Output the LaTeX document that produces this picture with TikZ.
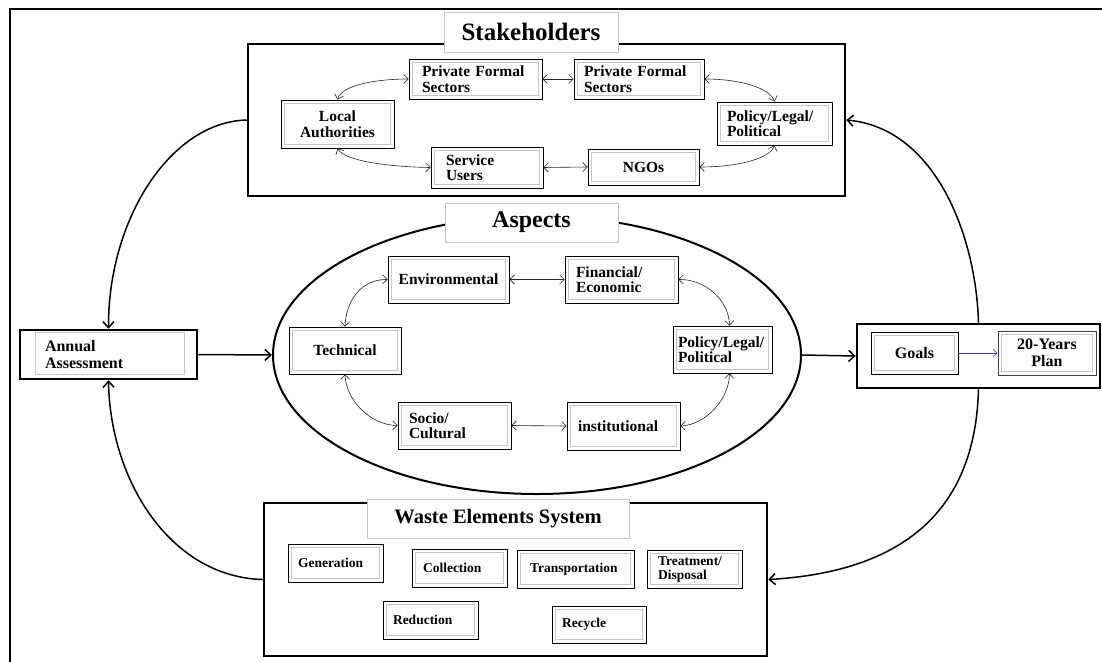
\documentclass[tikz,border=0pt]{standalone}
\usepackage{fontspec}
\setmainfont{Liberation Serif}
\usetikzlibrary{arrows.meta,shapes.geometric}
\begin{document}
\begin{tikzpicture}[x=1pt,y=-1pt,
  sb/.style={draw=black, line width=0.8pt, fill=white, inner ysep=0pt, align=left, font=\bfseries\fontsize{15.5}{15.5}\selectfont},
  wb/.style={sb, font=\bfseries\fontsize{13.5}{14}\selectfont},
  ab/.style={sb, font=\bfseries\fontsize{16}{17}\selectfont},
  ttl/.style={draw=gray!45, line width=0.8pt, fill=white, inner sep=0pt, font=\bfseries\fontsize{24}{24}\selectfont},
  cont/.style={draw=black, line width=2.5pt, inner sep=0pt},
  ingray/.style={draw=gray!45, line width=0.7pt},
  dbl/.style={{Straight Barb[length=4.5pt,width=9pt]}-{Straight Barb[length=4.5pt,width=9pt]}, line width=0.6pt, black!85},
  big/.style={-{Straight Barb[length=6pt,width=11pt]}, line width=1.5pt},
]
\useasboundingbox (0,0) rectangle (1102,661);
\fill[white] (0,0) rectangle (1102,661);
% outer frame (only top and left edges visible)
\draw[line width=2.5pt] (10,700) -- (10,9) -- (1130,9);

% aspects ellipse
\node[draw, ellipse, line width=2pt, minimum width=528, minimum height=278, inner sep=0pt] (asp) at (537,355) {};

% containers
\node[cont, minimum width=597, minimum height=152] (stk) at (546.5,120) {};
\node[cont, minimum width=503, minimum height=153] (wbox) at (515.5,579.5) {};
\node[cont, minimum width=243, minimum height=64] (gc) at (978.5,356) {};

% titles
\node[ttl, minimum width=174, minimum height=40, font=\bfseries\fontsize{25}{25}\selectfont] (stkt) at (531,32) {Stakeholders};
\node[ttl, minimum width=173, minimum height=39] (aspt) at (531.5,222.5) {Aspects};
\node[ttl, minimum width=262, minimum height=39, font=\bfseries\fontsize{20.5}{21}\selectfont] (wt) at (498,518.5) {Waste Elements System};

% stakeholders
\node[sb, minimum height=48, text width=97, inner xsep=8, align=center] (lauth) at (337.5,124) {Local\\Authorities};
\node[sb, minimum height=40, text width=107, inner xsep=13] (pfs1) at (475.5,79) {Private Formal\\Sectors};
\node[sb, minimum height=40, text width=110, inner xsep=10] (pfs2) at (639,79) {Private Formal\\Sectors};
\node[sb, minimum height=43, text width=95, inner xsep=10] (spol) at (774.5,123.5) {Policy/Legal/\\Political};
\node[sb, minimum height=41, text width=82, inner xsep=15] (susers) at (487,167.5) {Service\\Users};
\node[sb, minimum height=36, text width=95, inner xsep=8, align=center] (ngos) at (643.5,167) {NGOs};

% aspects
\node[sb, minimum height=47, text width=105, inner xsep=8, align=center] (env) at (448.5,279.5) {Environmental};
\node[sb, minimum height=47, text width=91, inner xsep=11] (fin) at (621.5,279.5) {Financial/\\Economic};
\node[sb, minimum height=47, text width=96, inner xsep=8, align=center] (tech) at (345,350.5) {Technical};
\node[sb, minimum height=47, text width=89, inner xsep=5] (apol) at (722.5,349.5) {Policy/Legal/\\Political};
\node[sb, minimum height=47, text width=91, inner xsep=11] (socio) at (454.5,425.5) {Socio/\\Cultural};
\node[sb, minimum height=48, text width=91, inner xsep=11] (inst) at (623.5,426) {institutional};

% annual assessment
\node[ab, line width=2.5pt, minimum height=49, text width=127, inner xsep=25] (annual) at (108.5,354.5) {Annual\\Assessment};
\draw[ingray] (35,332) rectangle (184,374);

% goals
\node[ab, minimum height=42, text width=71, inner xsep=8, align=center] (goals) at (914.5,353) {Goals};
\node[ab, draw=black!75, minimum height=44, text width=82, inner xsep=8, align=center] (plan) at (1047,353) {20-Years\\Plan};

% waste elements
\node[wb, minimum height=38, text width=75, inner xsep=10] (gen) at (335.5,563) {Generation};
\node[wb, minimum height=38, text width=73, inner xsep=11] (coll) at (459.5,568) {Collection};
\node[wb, minimum height=38, text width=91, inner xsep=13] (trans) at (575.5,569) {Transportation};
\node[wb, minimum height=38, text width=73, inner xsep=11] (treat) at (694.5,569) {Treatment/\\Disposal};
\node[wb, minimum height=38, text width=75, inner xsep=10] (red) at (430.5,620) {Reduction};
\node[wb, minimum height=37, text width=74, inner xsep=10] (rec) at (599,624.5) {Recycle};

% inner gray frames
\foreach \n in {lauth,pfs1,pfs2,spol,susers,ngos,env,fin,tech,apol,socio,inst,goals,plan,gen,coll,trans,treat,red,rec}
  \draw[ingray] ([xshift=4pt,yshift=-4pt]\n.north west) rectangle ([xshift=-4pt,yshift=4pt]\n.south east);

% stakeholder connectors
\draw[dbl] (lauth.north) .. controls (342,84) and (380,79) .. (pfs1.west);
\draw[dbl] (pfs1.east) -- (pfs2.west);
\draw[dbl] (pfs2.east) .. controls (740,79) and (770,88) .. (spol.north);
\draw[dbl] (lauth.south) .. controls (345,162) and (395,167) .. (susers.west);
\draw[dbl] (susers.east) -- (ngos.west);
\draw[dbl] (ngos.east) .. controls (740,167) and (770,158) .. (spol.south);

% aspects connectors
\draw[dbl] (env.west) .. controls (362,279) and (346,300) .. (tech.north);
\draw[dbl] (env.east) -- (fin.west);
\draw[dbl] (fin.east) .. controls (705,279) and (729,300) .. ([xshift=7pt]apol.north);
\draw[dbl] (tech.south) .. controls (346,400) and (370,425) .. (socio.west);
\draw[dbl] (socio.east) -- (inst.west);
\draw[dbl] (inst.east) .. controls (705,425) and (729,400) .. ([xshift=7pt]apol.south);

% main flow
\draw[big] (annual.east) -- (asp.west);
\draw[big] (asp.east) -- (gc.west);
\draw[-{Straight Barb[length=4pt,width=7pt]}, line width=0.6pt, blue!55!gray] (goals.east) -- (plan.west);
\draw[big] (stk.west) .. controls (170,122) and (108,220) .. (annual.north);
\draw[big] (wbox.west) .. controls (170,577) and (110,480) .. (annual.south);
\draw[big] (gc.north) .. controls (976,235) and (935,128) .. (stk.east);
\draw[big] (gc.south) .. controls (976,480) and (935,570) .. (wbox.east);
\end{tikzpicture}
\end{document}
